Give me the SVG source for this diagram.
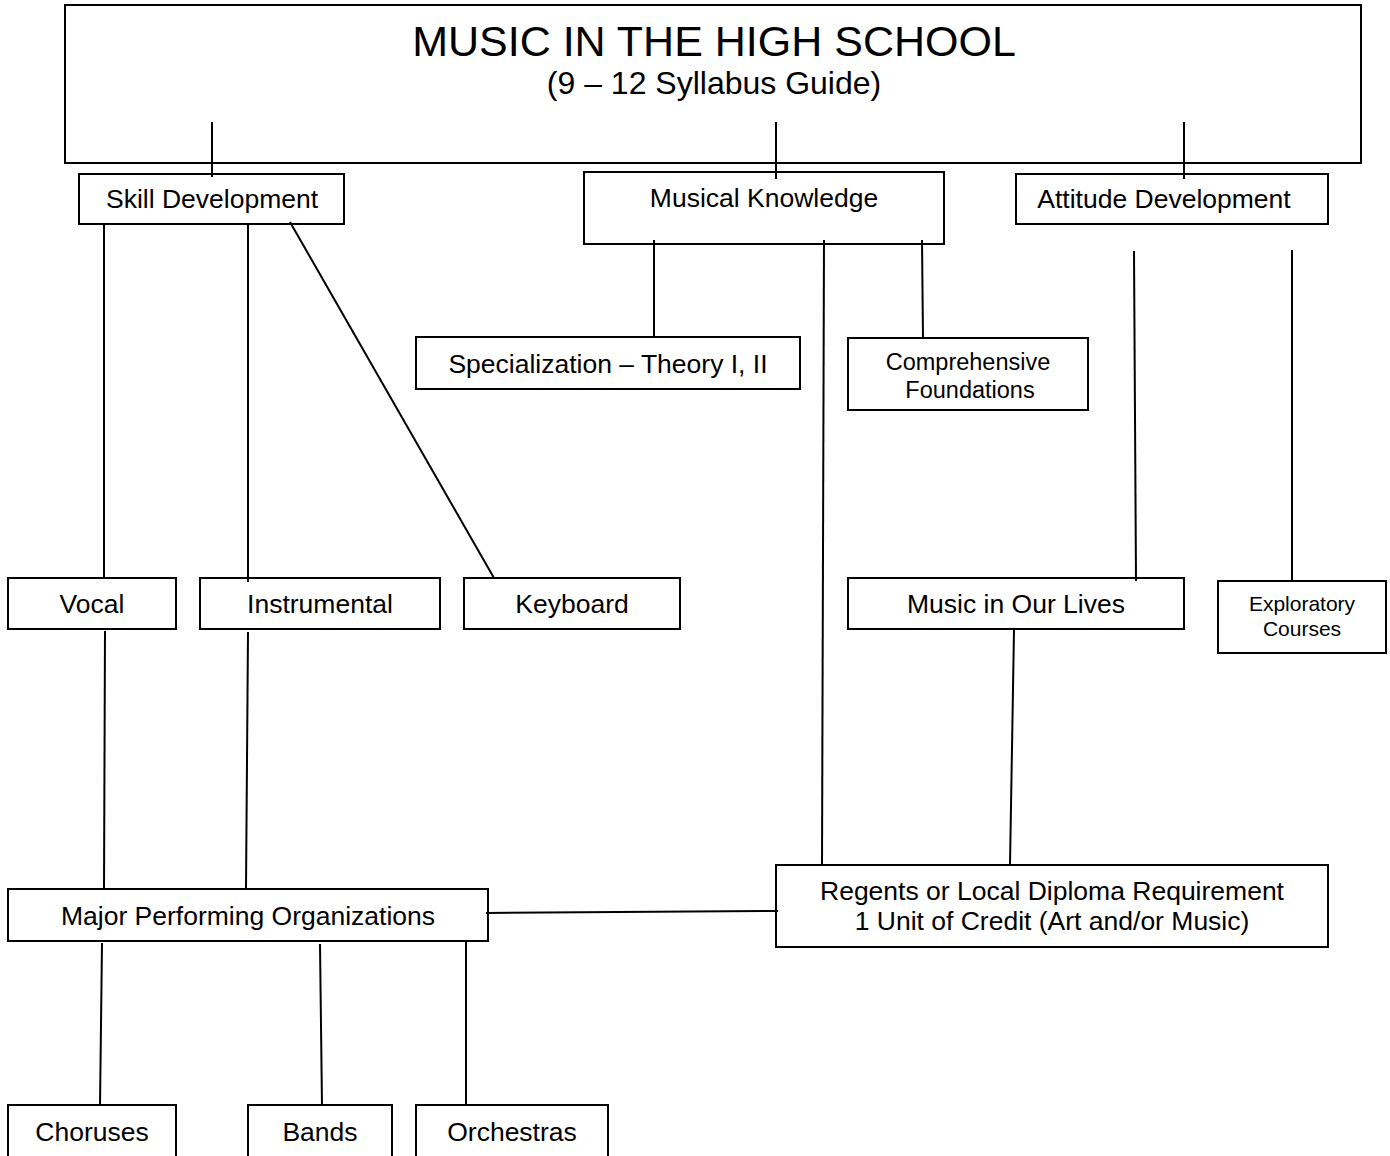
<svg xmlns="http://www.w3.org/2000/svg" width="1390" height="1156" viewBox="0 0 1390 1156">
<style>
.box{fill:#fff;stroke:#000;stroke-width:2}
.lbl{font-family:"Liberation Sans",Arial,sans-serif;font-size:26.5px;fill:#000;text-anchor:middle}
.sm{font-size:23.5px}
.xs{font-size:21px}
.conn line{stroke:#000;stroke-width:2}
</style>
<rect width="1390" height="1156" fill="#fff"/>
<g id="title">
<rect class="box" x="65" y="5" width="1296" height="158"/>
<text class="lbl" x="714" y="56" style="font-size:43px">MUSIC IN THE HIGH SCHOOL</text>
<text class="lbl" x="714" y="94" style="font-size:32px">(9 – 12 Syllabus Guide)</text>
</g>
<g id="skill"><rect class="box" x="79" y="174" width="265" height="50"/><text class="lbl" x="212" y="208">Skill Development</text></g>
<g id="knowledge"><rect class="box" x="584" y="172" width="360" height="72"/><text class="lbl" x="764" y="207">Musical Knowledge</text></g>
<g id="attitude"><rect class="box" x="1016" y="174" width="312" height="50"/><text class="lbl" x="1164" y="208">Attitude Development</text></g>
<g id="specialization"><rect class="box" x="416" y="337" width="384" height="52"/><text class="lbl" x="608" y="373">Specialization – Theory I, II</text></g>
<g id="comprehensive"><rect class="box" x="848" y="338" width="240" height="72"/><text class="lbl sm" x="968" y="370">Comprehensive</text><text class="lbl sm" x="970" y="398">Foundations</text></g>
<g id="vocal"><rect class="box" x="8" y="578" width="168" height="51"/><text class="lbl" x="92" y="613">Vocal</text></g>
<g id="instrumental"><rect class="box" x="200" y="578" width="240" height="51"/><text class="lbl" x="320" y="613">Instrumental</text></g>
<g id="keyboard"><rect class="box" x="464" y="578" width="216" height="51"/><text class="lbl" x="572" y="613">Keyboard</text></g>
<g id="lives"><rect class="box" x="848" y="578" width="336" height="51"/><text class="lbl" x="1016" y="613">Music in Our Lives</text></g>
<g id="exploratory"><rect class="box" x="1218" y="581" width="168" height="72"/><text class="lbl xs" x="1302" y="611">Exploratory</text><text class="lbl xs" x="1302" y="636">Courses</text></g>
<g id="major"><rect class="box" x="8" y="889" width="480" height="52"/><text class="lbl" x="248" y="925">Major Performing Organizations</text></g>
<g id="regents"><rect class="box" x="776" y="865" width="552" height="82"/><text class="lbl" x="1052" y="900">Regents or Local Diploma Requirement</text><text class="lbl" x="1052" y="930">1 Unit of Credit (Art and/or Music)</text></g>
<g id="choruses"><rect class="box" x="8" y="1105" width="168" height="70"/><text class="lbl" x="92" y="1141">Choruses</text></g>
<g id="bands"><rect class="box" x="248" y="1105" width="144" height="70"/><text class="lbl" x="320" y="1141">Bands</text></g>
<g id="orchestras"><rect class="box" x="416" y="1105" width="192" height="70"/><text class="lbl" x="512" y="1141">Orchestras</text></g>
<g id="connectors" class="conn">
<line x1="212" y1="122" x2="212" y2="177"/>
<line x1="776" y1="122" x2="776" y2="179"/>
<line x1="1184" y1="122" x2="1184" y2="179"/>
<line x1="104" y1="224" x2="104" y2="578"/>
<line x1="248" y1="224" x2="248" y2="582"/>
<line x1="290" y1="222" x2="494" y2="578"/>
<line x1="654" y1="240" x2="654" y2="337"/>
<line x1="824" y1="240" x2="822" y2="865"/>
<line x1="922" y1="240" x2="923" y2="338"/>
<line x1="1134" y1="251" x2="1136" y2="581"/>
<line x1="1292" y1="250" x2="1292" y2="581"/>
<line x1="105" y1="631" x2="104" y2="889"/>
<line x1="248" y1="632" x2="246" y2="889"/>
<line x1="1014" y1="630" x2="1010" y2="865"/>
<line x1="486" y1="913" x2="778" y2="911"/>
<line x1="102" y1="943" x2="100" y2="1106"/>
<line x1="320" y1="944" x2="322" y2="1106"/>
<line x1="466" y1="940" x2="466" y2="1106"/>
</g>
</svg>
